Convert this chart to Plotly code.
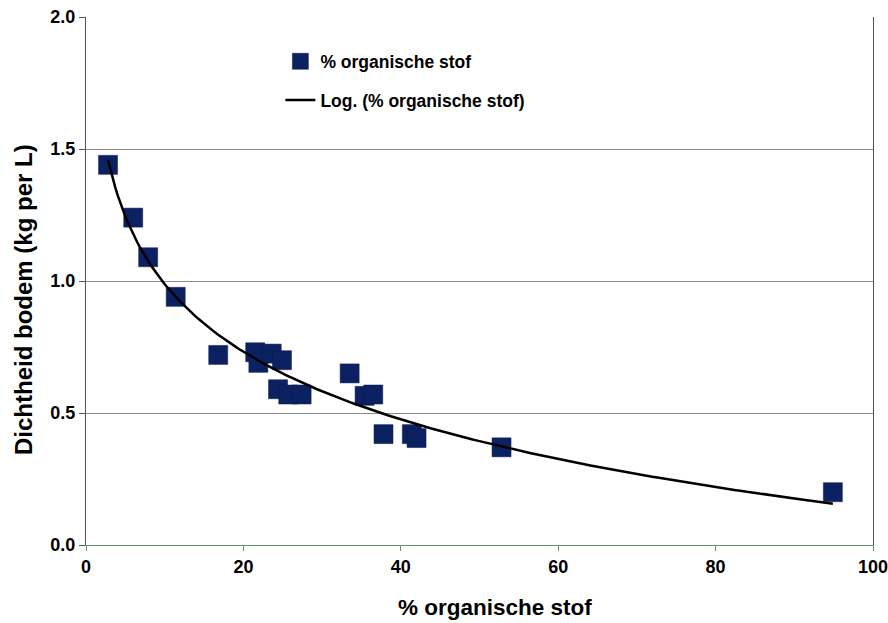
import numpy as np
import plotly.graph_objects as go

# Data
organic_pct = [2.8, 6.0, 7.9, 11.4, 16.8, 21.5, 21.9, 23.6, 24.9, 24.4, 25.7, 27.4,
               33.5, 35.4, 36.5, 37.8, 41.4, 42.0, 52.8, 94.9]
density = [1.44, 1.24, 1.09, 0.94, 0.72, 0.73, 0.69, 0.725, 0.70, 0.59, 0.57, 0.57,
           0.65, 0.565, 0.57, 0.42, 0.42, 0.405, 0.37, 0.20]

x_ticks = [0, 20, 40, 60, 80, 100]
y_ticks = [0.0, 0.5, 1.0, 1.5, 2.0]
y_tick_labels = ["0.0", "0.5", "1.0", "1.5", "2.0"]

series_name = "% organische stof"
trend_name = "Log. (% organische stof)"
x_title = "% organische stof"
y_title = "Dichtheid bodem (kg per L)"

# Logarithmic trendline (least squares on ln x), like Excel
xa = np.array(organic_pct)
ya = np.array(density)
a, b = np.polyfit(np.log(xa), ya, 1)
xt = np.linspace(xa.min(), xa.max(), 300)
yt = a * np.log(xt) + b

FONT = "Arial, 'Liberation Sans', sans-serif"

fig = go.Figure()
fig.add_trace(go.Scatter(
    x=organic_pct, y=density, mode="markers", name=series_name,
    marker=dict(symbol="square", size=19, color="#0c2161",
                line=dict(color="#0a1a4f", width=0.5)),
    legendgroup="a",
))
fig.add_trace(go.Scatter(
    x=xt, y=yt, mode="lines", name=trend_name,
    line=dict(color="#000000", width=2.5),
    legendgroup="b",
))

fig.update_layout(
    width=888, height=623,
    margin=dict(l=86, r=15, t=17, b=78),
    paper_bgcolor="white", plot_bgcolor="white",
    font=dict(family=FONT, color="#000000"),
    showlegend=True,
    legend=dict(
        x=0.247, y=0.950, xanchor="left", yanchor="top",
        bgcolor="rgba(255,255,255,0)",
        font=dict(family=FONT, size=17.5, color="#000000", weight="bold"),
        tracegroupgap=13, itemwidth=30,
    ),
    xaxis=dict(
        range=[0, 100], tickvals=x_ticks, ticktext=[str(v) for v in x_ticks],
        showgrid=False, zeroline=False, automargin=False,
        ticklabeloverflow="allow",
        showline=True, linecolor="#5a9a6a", linewidth=1,
        ticks="outside", ticklen=5, tickcolor="#5a9a6a",
        tickfont=dict(family=FONT, size=18, color="#000000", weight="bold"),
    ),
    yaxis=dict(
        range=[0, 2.0], tickvals=y_ticks, ticktext=y_tick_labels,
        showgrid=True, gridcolor="#8c8c8c", gridwidth=1, zeroline=False,
        automargin=False, ticklabeloverflow="allow",
        showline=True, linecolor="#555555", linewidth=1, mirror=True,
        ticks="outside", ticklen=6, tickcolor="#555555",
        tickfont=dict(family=FONT, size=18, color="#000000", weight="bold"),
    ),
    annotations=[
        dict(text=x_title, xref="paper", yref="paper",
             x=(495 - 86) / 787, y=-(607 - 545) / 528,
             xanchor="center", yanchor="middle", showarrow=False,
             font=dict(family=FONT, size=22.5, color="#000000", weight="bold")),
        dict(text=y_title, xref="paper", yref="paper",
             x=-(86 - 23) / 787, y=(545 - 300) / 528, textangle=-90,
             xanchor="center", yanchor="middle", showarrow=False,
             font=dict(family=FONT, size=24, color="#000000", weight="bold")),
    ],
)

fig.write_html(
    "out.html",
    config={"displayModeBar": False},
    post_script="document.body.style.margin='0';document.body.style.padding='0';",
)
